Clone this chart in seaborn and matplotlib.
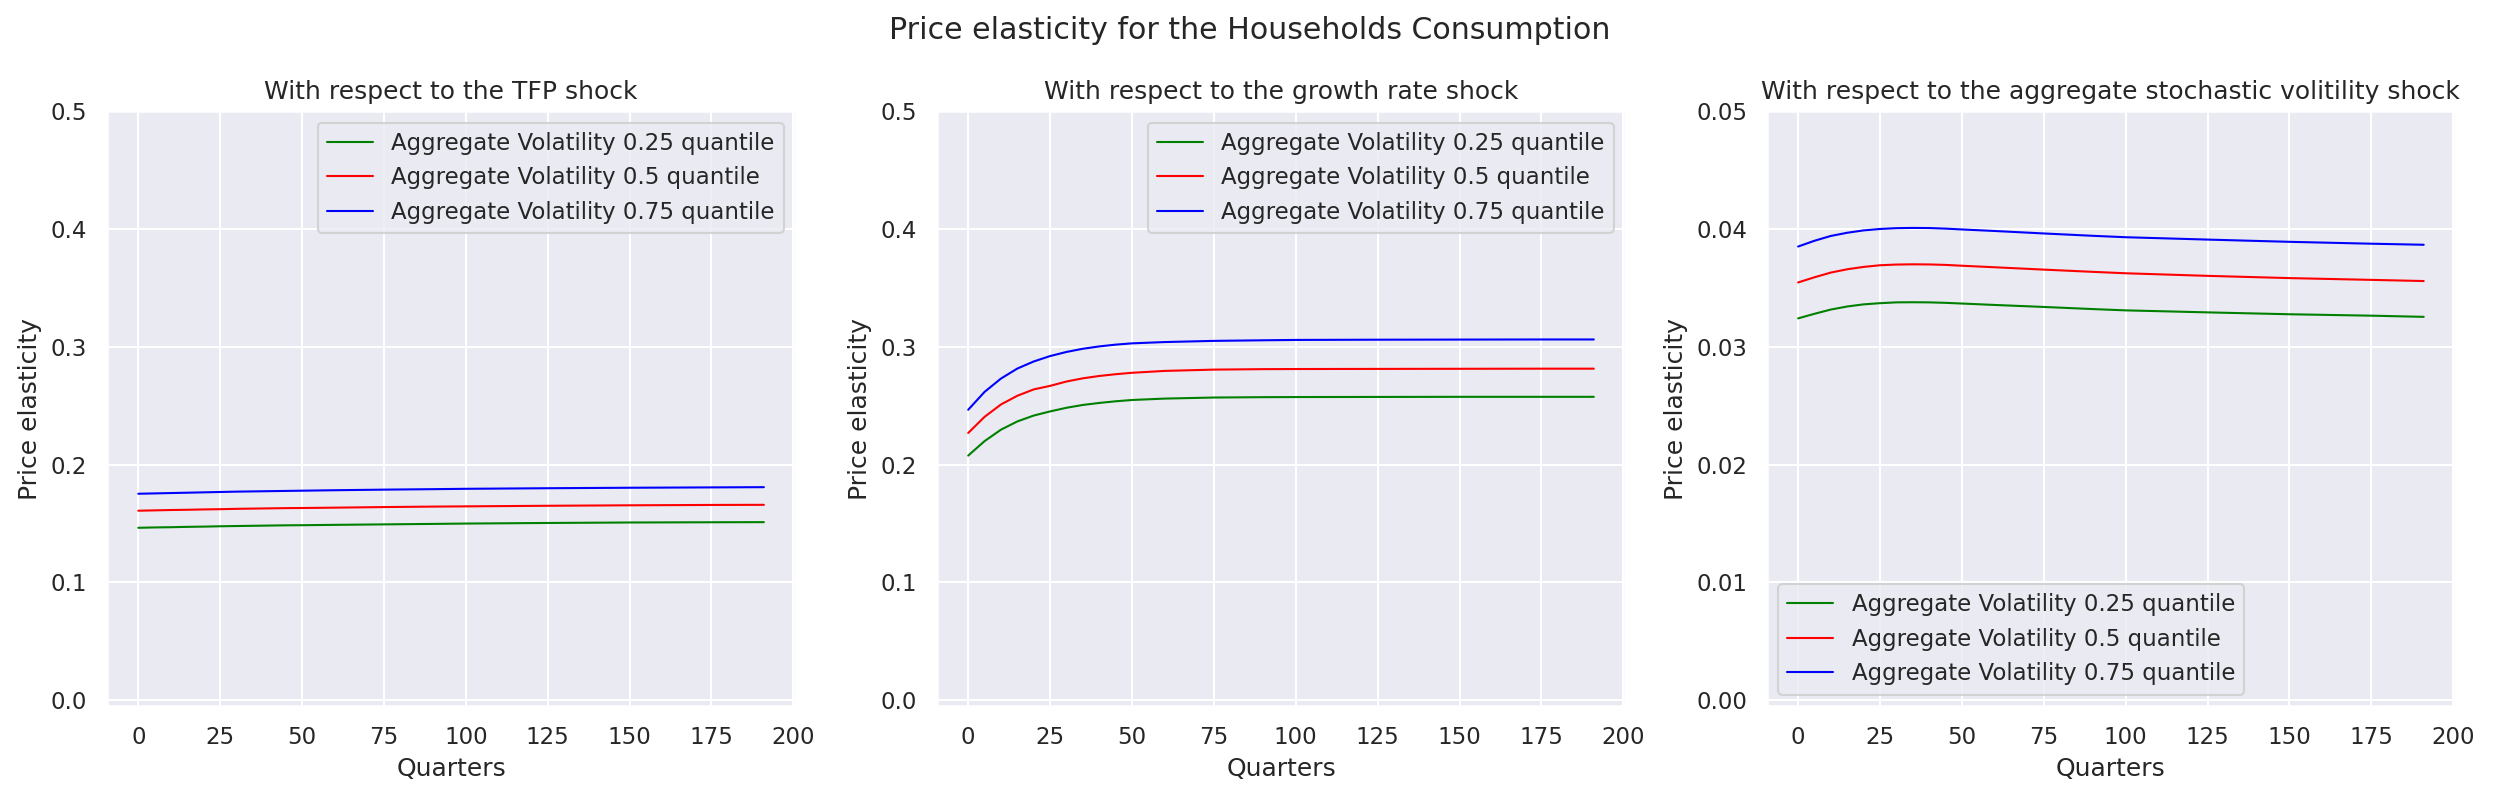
"""Price elasticity of household consumption under three shocks."""

import matplotlib

matplotlib.use("Agg")
import matplotlib.pyplot as plt  # noqa: E402
import seaborn as sns  # noqa: E402

QUARTERS = [0, 5, 10, 15, 20, 25, 30, 35, 40, 45, 50, 60, 75, 90, 100, 125, 150, 175, 191]

QUANTILE_LABELS = [
    "Aggregate Volatility 0.25 quantile",
    "Aggregate Volatility 0.5 quantile",
    "Aggregate Volatility 0.75 quantile",
]
QUANTILE_COLORS = ["green", "red", "blue"]

# TFP shock
TFP_Q25 = [0.1463, 0.1466, 0.1468, 0.1471, 0.1473, 0.1476, 0.1478, 0.1480, 0.1482, 0.1484,
           0.1485, 0.1488, 0.1492, 0.1496, 0.1499, 0.1504, 0.1508, 0.1510, 0.1511]
TFP_Q50 = [0.1608, 0.1611, 0.1614, 0.1616, 0.1619, 0.1621, 0.1624, 0.1626, 0.1628, 0.1630,
           0.1631, 0.1634, 0.1639, 0.1643, 0.1645, 0.1650, 0.1654, 0.1657, 0.1658]
TFP_Q75 = [0.1752, 0.1755, 0.1758, 0.1761, 0.1764, 0.1767, 0.1770, 0.1772, 0.1774, 0.1776,
           0.1778, 0.1782, 0.1787, 0.1791, 0.1794, 0.1799, 0.1803, 0.1806, 0.1808]

# growth rate shock
GROWTH_Q25 = [0.2076, 0.2199, 0.2296, 0.2366, 0.2416, 0.2451, 0.2482, 0.2506, 0.2523, 0.2537,
              0.2548, 0.2560, 0.2569, 0.2572, 0.2573, 0.2574, 0.2575, 0.2575, 0.2575]
GROWTH_Q50 = [0.2268, 0.2405, 0.2510, 0.2584, 0.2638, 0.2668, 0.2705, 0.2732, 0.2752, 0.2767,
              0.2779, 0.2795, 0.2806, 0.2810, 0.2811, 0.2812, 0.2813, 0.2814, 0.2814]
GROWTH_Q75 = [0.2465, 0.2617, 0.2730, 0.2815, 0.2875, 0.2921, 0.2956, 0.2983, 0.3003, 0.3018,
              0.3029, 0.3040, 0.3050, 0.3055, 0.3058, 0.3060, 0.3061, 0.3062, 0.3062]

# aggregate stochastic volatility shock
VOL_Q25 = [0.03241, 0.03280, 0.03316, 0.03342, 0.03360, 0.03370, 0.03377, 0.03378, 0.03377, 0.03373,
           0.03367, 0.03355, 0.03338, 0.03320, 0.03309, 0.03292, 0.03276, 0.03264, 0.03254]
VOL_Q50 = [0.03546, 0.03590, 0.03630, 0.03658, 0.03678, 0.03692, 0.03698, 0.03700, 0.03699, 0.03695,
           0.03688, 0.03675, 0.03655, 0.03636, 0.03624, 0.03602, 0.03583, 0.03568, 0.03558]
VOL_Q75 = [0.03851, 0.03900, 0.03941, 0.03968, 0.03988, 0.04000, 0.04007, 0.04009, 0.04008, 0.04003,
           0.03996, 0.03983, 0.03962, 0.03942, 0.03930, 0.03910, 0.03891, 0.03875, 0.03866]

PANELS = [
    ("With respect to the TFP shock", [TFP_Q25, TFP_Q50, TFP_Q75], 0.5, "upper right"),
    ("With respect to the growth rate shock", [GROWTH_Q25, GROWTH_Q50, GROWTH_Q75], 0.5, "upper right"),
    ("With respect to the aggregate stochastic volitility shock", [VOL_Q25, VOL_Q50, VOL_Q75], 0.05, "lower left"),
]


def main() -> None:
    sns.set_theme(style="darkgrid")
    fig, axes = plt.subplots(1, 3, figsize=(2500 / 150, 800 / 150), dpi=150)
    fig.subplots_adjust(left=0.0428, right=0.982, top=0.861, bottom=0.1175, wspace=0.206)

    for ax, (title, series, ymax, legend_loc) in zip(axes, PANELS):
        for values, label, color in zip(series, QUANTILE_LABELS, QUANTILE_COLORS):
            sns.lineplot(x=QUARTERS, y=values, ax=ax, color=color, label=label, linewidth=1)
        ax.set_ylim(-ymax / 100, ymax)
        ax.set_title(title)
        ax.set_xlabel("Quarters")
        ax.set_ylabel("Price elasticity")
        ax.legend(loc=legend_loc)

    fig.suptitle("Price elasticity for the Households Consumption")
    fig.savefig("out.png", dpi=150)
    plt.close(fig)


if __name__ == "__main__":
    main()
